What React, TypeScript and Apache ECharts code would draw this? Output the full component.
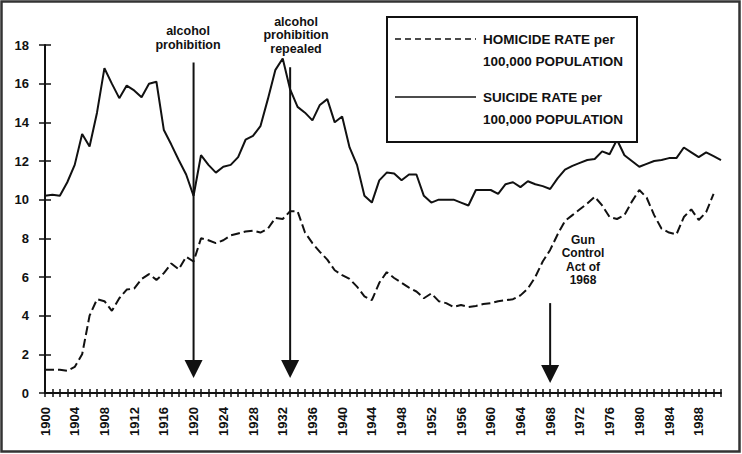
import React, { useEffect, useRef } from "react";
import * as echarts from "echarts";

const START_YEAR = 1900;
const END_YEAR = 1991;

const suicideRate = [
  10.2, 10.25, 10.2, 10.9, 11.8, 13.4, 12.75, 14.5, 16.8, 16.0,
  15.25, 15.9, 15.65, 15.3, 16.0, 16.1, 13.6, 12.85, 12.05, 11.3,
  10.2, 12.3, 11.8, 11.4, 11.7, 11.8, 12.2, 13.1, 13.3, 13.8,
  15.2, 16.7, 17.3, 15.7, 14.8, 14.5, 14.1, 14.9, 15.2, 14.0,
  14.3, 12.7, 11.8, 10.2, 9.85, 11.0, 11.4, 11.35, 11.0, 11.3,
  11.3, 10.2, 9.85, 10.0, 10.0, 10.0, 9.85, 9.7, 10.5, 10.5,
  10.5, 10.3, 10.8, 10.9, 10.65, 10.95, 10.8, 10.7, 10.55, 11.1,
  11.55, 11.75, 11.9, 12.05, 12.1, 12.5, 12.35, 13.1, 12.3, 12.0,
  11.7, 11.85, 12.0, 12.05, 12.15, 12.15, 12.7, 12.45, 12.2, 12.45,
  12.25, 12.05,
];

const homicideRate = [
  1.2, 1.2, 1.2, 1.15, 1.35, 2.0, 4.0, 4.85, 4.75, 4.25,
  4.9, 5.35, 5.4, 5.9, 6.15, 5.85, 6.2, 6.7, 6.4, 7.05,
  6.8, 8.0, 7.9, 7.75, 7.9, 8.15, 8.25, 8.35, 8.4, 8.3,
  8.5, 9.05, 9.0, 9.4, 9.4, 8.3, 7.75, 7.3, 6.9, 6.35,
  6.1, 5.9, 5.5, 5.0, 4.8, 5.7, 6.25, 5.95, 5.7, 5.45,
  5.25, 4.9, 5.15, 4.75, 4.65, 4.45, 4.55, 4.45, 4.5, 4.6,
  4.65, 4.75, 4.8, 4.85, 5.05, 5.4, 6.0, 6.8, 7.4, 8.2,
  8.9, 9.2, 9.5, 9.8, 10.15, 9.7, 9.1, 9.0, 9.2, 9.9,
  10.5, 10.1, 9.2, 8.5, 8.3, 8.2, 9.1, 9.5, 8.95, 9.35,
  10.3, null,
];

// event arrows: year, top value, tip value
const arrowYears = [1920, 1933, 1968];
const arrowTops = [17.1, 16.85, 4.65];
const arrowTips = [0.78, 0.78, 0.52];

const legendNames = [
  ["HOMICIDE RATE per", "100,000 POPULATION"],
  ["SUICIDE RATE per", "100,000 POPULATION"],
];

const annotationTexts = [
  "alcohol\nprohibition",
  "alcohol\nprohibition\nrepealed",
  "Gun\nControl\nAct of\n1968",
];

const FONT = "'Liberation Sans', Arial, Helvetica, sans-serif";
const INK = "#111";

export default function App() {
  const ref = useRef<HTMLDivElement>(null);

  useEffect(() => {
    if (!ref.current) return;
    const chart = echarts.init(ref.current, undefined, { renderer: "svg" });

    const years: number[] = [];
    for (let y = START_YEAR; y <= END_YEAR; y++) years.push(y);

    const suicideData = years.map((y, i) => [y, suicideRate[i]]);
    const homicideData = years.map((y, i) => [y, homicideRate[i]]);
    const arrowData = arrowYears.map((y, i) => [y, arrowTops[i], arrowTips[i]]);

    const xLabel = {
      rotate: 90,
      margin: 14,
      fontSize: 13,
      fontWeight: "bold" as const,
      color: INK,
      fontFamily: FONT,
      formatter: (v: number) => ((v - START_YEAR) % 4 === 0 ? String(v) : ""),
    };

    const option: any = {
      animation: false,
      backgroundColor: "#fff",
      grid: { left: 45, right: 21, top: 45, bottom: 61 },
      xAxis: [
        {
          type: "value",
          min: START_YEAR,
          max: END_YEAR,
          interval: 1,
          axisLine: { show: true, onZero: false, lineStyle: { color: INK, width: 2 } },
          axisTick: { show: true, length: 4, lineStyle: { color: INK, width: 1.5 } },
          axisLabel: xLabel,
          splitLine: { show: false },
        },
        {
          type: "value",
          position: "bottom",
          min: START_YEAR,
          max: END_YEAR,
          interval: 1,
          axisLine: { show: false },
          axisTick: { show: true, inside: true, length: 4, lineStyle: { color: INK, width: 1.5 } },
          axisLabel: { show: false },
          splitLine: { show: false },
        },
      ],
      yAxis: [
        {
          type: "value",
          min: 0,
          max: 18,
          interval: 2,
          axisLine: { show: true, onZero: false, lineStyle: { color: INK, width: 2 } },
          axisTick: { show: true, length: 6, lineStyle: { color: INK, width: 1.5 } },
          axisLabel: {
            margin: 16,
            fontSize: 13,
            fontWeight: "bold",
            color: INK,
            fontFamily: FONT,
          },
          splitLine: { show: false },
        },
        {
          type: "value",
          position: "left",
          min: 0,
          max: 18,
          interval: 2,
          axisLine: { show: false },
          axisTick: { show: true, inside: true, length: 6, lineStyle: { color: INK, width: 1.5 } },
          axisLabel: { show: false },
          splitLine: { show: false },
        },
      ],
      series: [
        {
          name: "Suicide",
          type: "line",
          data: suicideData,
          showSymbol: false,
          symbol: "none",
          lineStyle: { color: INK, width: 2 },
          z: 3,
        },
        {
          name: "Homicide",
          type: "line",
          data: homicideData,
          showSymbol: false,
          symbol: "none",
          connectNulls: false,
          lineStyle: { color: INK, width: 2, type: [9, 4] },
          z: 3,
        },
        {
          name: "Events",
          type: "custom",
          data: arrowData,
          encode: { x: 0, y: [1, 2] },
          z: 4,
          renderItem: (params: any, api: any) => {
            const x = api.value(0);
            const top = api.coord([x, api.value(1)]);
            const tip = api.coord([x, api.value(2)]);
            const hw = 9;
            const hh = 18;
            return {
              type: "group",
              children: [
                {
                  type: "line",
                  shape: { x1: top[0], y1: top[1], x2: tip[0], y2: tip[1] - hh + 1 },
                  style: { stroke: INK, lineWidth: 2 },
                },
                {
                  type: "polygon",
                  shape: {
                    points: [
                      [tip[0] - hw, tip[1] - hh],
                      [tip[0] + hw, tip[1] - hh],
                      [tip[0], tip[1]],
                    ],
                  },
                  style: { fill: INK },
                },
              ],
            };
          },
        },
      ],
      graphic: [
        {
          type: "rect",
          shape: { x: 1.5, y: 1.5, width: 738, height: 450 },
          style: { fill: "none", stroke: "#333", lineWidth: 2.5 },
          z: 10,
        },
        {
          type: "rect",
          shape: { x: 387, y: 17, width: 250, height: 125 },
          style: { fill: "#fff", stroke: INK, lineWidth: 2 },
          z: 10,
        },
        {
          type: "line",
          shape: { x1: 395, y1: 39, x2: 476, y2: 39 },
          style: { stroke: INK, lineWidth: 1.5, lineDash: [6, 4] },
          z: 11,
        },
        {
          type: "line",
          shape: { x1: 395, y1: 97, x2: 476, y2: 97 },
          style: { stroke: INK, lineWidth: 1.5 },
          z: 11,
        },
        {
          type: "text",
          x: 483,
          y: 39,
          z: 11,
          style: {
            text: legendNames[0][0],
            fill: INK,
            font: `bold 13.5px ${FONT}`,
            verticalAlign: "middle",
          },
        },
        {
          type: "text",
          x: 483,
          y: 61,
          z: 11,
          style: {
            text: legendNames[0][1],
            fill: INK,
            font: `bold 13.5px ${FONT}`,
            verticalAlign: "middle",
          },
        },
        {
          type: "text",
          x: 483,
          y: 97,
          z: 11,
          style: {
            text: legendNames[1][0],
            fill: INK,
            font: `bold 13.5px ${FONT}`,
            verticalAlign: "middle",
          },
        },
        {
          type: "text",
          x: 483,
          y: 119,
          z: 11,
          style: {
            text: legendNames[1][1],
            fill: INK,
            font: `bold 13.5px ${FONT}`,
            verticalAlign: "middle",
          },
        },
        {
          type: "text",
          x: 188,
          y: 24,
          z: 11,
          style: {
            text: annotationTexts[0],
            fill: INK,
            font: `bold 12.5px ${FONT}`,
            align: "center",
            lineHeight: 14,
          },
        },
        {
          type: "text",
          x: 296,
          y: 15,
          z: 11,
          style: {
            text: annotationTexts[1],
            fill: INK,
            font: `bold 12.5px ${FONT}`,
            align: "center",
            lineHeight: 13.5,
          },
        },
        {
          type: "text",
          x: 583,
          y: 233,
          z: 11,
          style: {
            text: annotationTexts[2],
            fill: INK,
            font: `bold 12px ${FONT}`,
            align: "center",
            lineHeight: 13.5,
          },
        },
      ],
    };

    chart.setOption(option);
    return () => chart.dispose();
  }, []);

  return (
    <div
      ref={ref}
      style={{ position: "fixed", left: 0, top: 0, width: 742, height: 454, background: "#fff" }}
    />
  );
}
